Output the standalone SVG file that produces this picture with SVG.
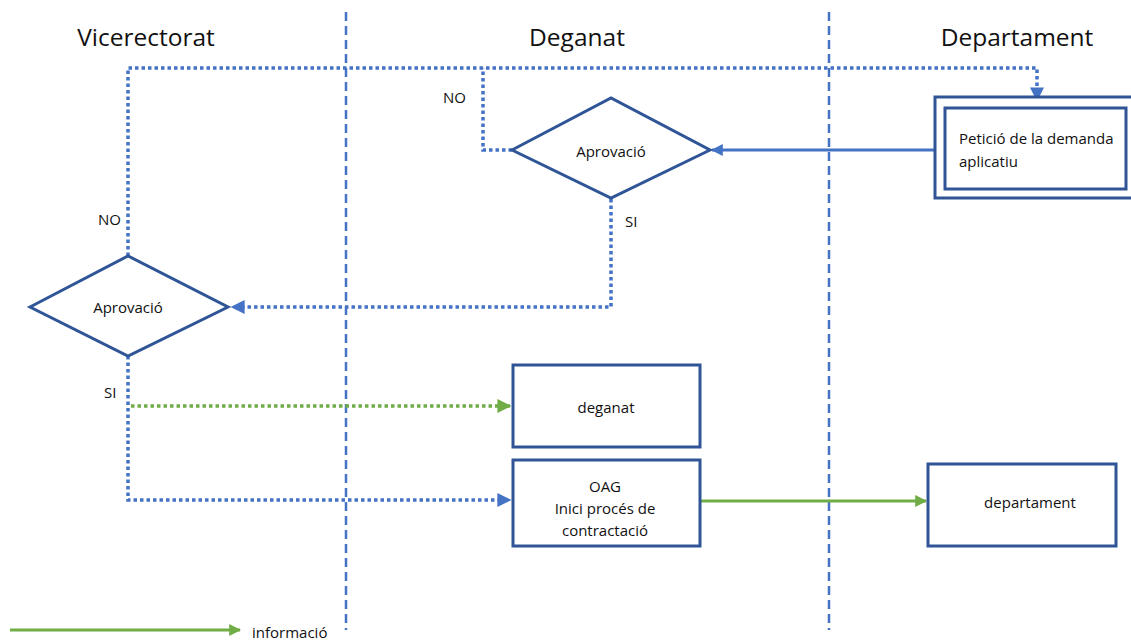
<svg xmlns="http://www.w3.org/2000/svg" width="1131" height="641" viewBox="0 0 1131 641">
<defs>
<marker id="ab" viewBox="0 0 10 10" refX="9" refY="5" markerWidth="4" markerHeight="4" orient="auto" markerUnits="strokeWidth"><path d="M0,0 L10,5 L0,10 z" fill="#4472C4"/></marker>
<marker id="ag" viewBox="0 0 10 10" refX="9" refY="5" markerWidth="4" markerHeight="4" orient="auto" markerUnits="strokeWidth"><path d="M0,0 L10,5 L0,10 z" fill="#70AD47"/></marker>
</defs>
<style>
text{font-family:"Open Sans","Liberation Sans",sans-serif;fill:#111}
.h{font-size:24.5px;text-anchor:middle}
.t{font-size:15px}
.c{text-anchor:middle}
.shape{fill:#fff;stroke:#2F5597;stroke-width:3}
.lane{stroke:#4472C4;stroke-width:2.5;stroke-dasharray:9 5;fill:none}
.dot{stroke:#4472C4;stroke-width:3.5;stroke-dasharray:3.5 3;fill:none}
.gdot{stroke:#70AD47;stroke-width:3.5;stroke-dasharray:3.5 3;fill:none}
.solid{stroke:#4472C4;stroke-width:3;fill:none}
.gsolid{stroke:#70AD47;stroke-width:3;fill:none}
</style>
<rect width="1131" height="641" fill="#fff"/>
<g id="lanes">
<line class="lane" x1="346" y1="12" x2="346" y2="630"/>
<line class="lane" x1="829" y1="12" x2="829" y2="630"/>
<text class="h" x="146" y="46">Vicerectorat</text>
<text class="h" x="577" y="46">Deganat</text>
<text class="h" x="1017" y="46">Departament</text>
</g>
<g id="connectors">
<path class="dot" d="M128,256 V68 H1037 V100" marker-end="url(#ab)"/>
<path class="dot" d="M512,150 H483 V68"/>
<path class="solid" d="M935,150 H712" marker-end="url(#ab)"/>
<path class="dot" d="M611,199 V307 H232" marker-end="url(#ab)"/>
<path class="dot" d="M128,356 V500 H510" marker-end="url(#ab)"/>
<path class="gdot" d="M131,406 H510" marker-end="url(#ag)"/>
<path class="gsolid" d="M700,501 H926" marker-end="url(#ag)"/>
<path class="gsolid" d="M10,630 H240" marker-end="url(#ag)"/>
<text class="t" x="443" y="103">NO</text>
<text class="t" x="625" y="227">SI</text>
<text class="t" x="98" y="225">NO</text>
<text class="t" x="104" y="398">SI</text>
<text class="t" x="252" y="638">informació</text>
</g>
<g id="peticio">
<rect class="shape" x="935" y="97" width="200" height="101"/>
<rect class="shape" x="945" y="108" width="181" height="81"/>
<text class="t" x="959" y="144">Petició de la demanda</text>
<text class="t" x="959" y="167">aplicatiu</text>
</g>
<g id="aprovacio-deganat">
<polygon class="shape" points="512,150 611,98 710,150 611,198"/>
<text class="t c" x="611" y="157">Aprovació</text>
</g>
<g id="aprovacio-vicerectorat">
<polygon class="shape" points="30,307 128,256 228,307 128,356"/>
<text class="t c" x="128" y="313">Aprovació</text>
</g>
<g id="deganat">
<rect class="shape" x="513" y="365" width="187" height="82"/>
<text class="t c" x="606" y="413">deganat</text>
</g>
<g id="oag">
<rect class="shape" x="513" y="460" width="187" height="86"/>
<text class="t c" x="605" y="492">OAG</text>
<text class="t c" x="605" y="514">Inici procés de</text>
<text class="t c" x="605" y="536">contractació</text>
</g>
<g id="departament">
<rect class="shape" x="928" y="464" width="188" height="82"/>
<text class="t c" x="1030" y="508">departament</text>
</g>
</svg>
